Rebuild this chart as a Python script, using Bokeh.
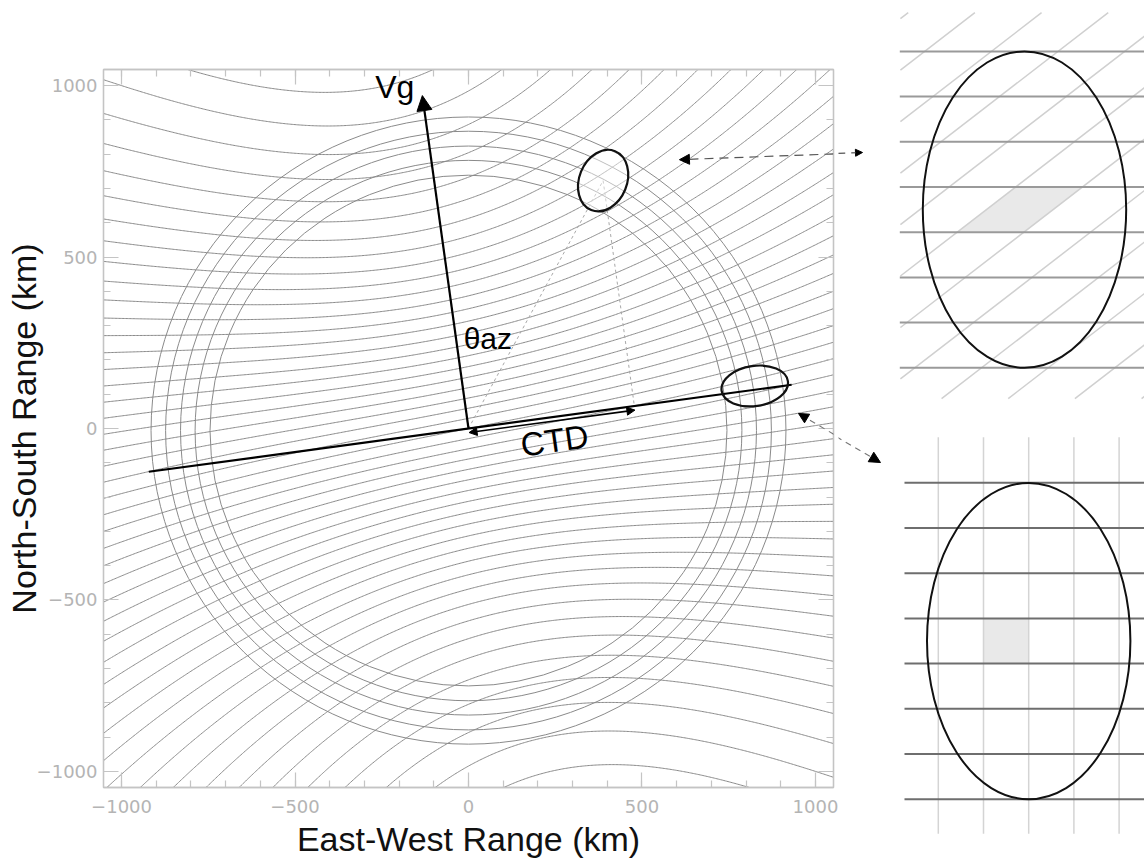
import numpy as np
import contourpy
from bokeh.plotting import figure
from bokeh.models import Range1d, LinearAxis, FixedTicker, Arrow, NormalHead
from bokeh.layouts import row
from bokeh.embed import file_html
from bokeh.resources import INLINE
from bokeh.core.properties import value

# ---------------- data ----------------
X_RANGE_KM = (-1052, 1052)
Y_RANGE_KM = (-1047, 1047)
MAJOR_TICKS = [-1000, -500, 0, 500, 1000]
TICK_LABELS = ["\u22121000", "\u2212500", "0", "500", "1000"]
MINOR_TICKS = list(range(-1000, 1001, 100))

ISO_DELAY_RADII_KM = [745, 788, 830, 873, 915]
ISO_DELAY_CENTER_KM = (0, -6)

RX_HEIGHT_KM = 900
VG_AZIMUTH_DEG = -7.8
TX_DOPPLER_GRADIENT = (-6.0e-5, -5.0e-5)
DOPPLER_STEP = 0.031
DOPPLER_LEVEL_INDEX = list(range(-40, 41))

VG_LENGTH_KM = 980
CTD_LINE_T = (-930, 940)
CTD_ARROW_OFFSET_KM = -12

FOOTPRINT_X = [388, 825]
FOOTPRINT_Y = [723, 124]
FOOTPRINT_W = [183, 193]
FOOTPRINT_H = [139, 117]
FOOTPRINT_ANGLE_DEG = [68, 8.2]

# inset geometry in cell units (1 cell = one resolution cell)
INSET_CELL_PX = 45.2
TOP_H_LINES_Y0, BOT_H_LINES_Y0 = 10.923, 1.378
N_H_LINES = 8
TOP_DIAG_SLOPE, TOP_DIAG_SPACING, TOP_DIAG_ANCHOR = 0.772, 1.475, 2.626
BOT_V_LINES_X0, N_V_LINES = 2.208, 5
ELLIPSE_W_CELLS, ELLIPSE_H_CELLS = 4.5, 7.0

FONT = "Liberation Sans"
FRAME = "#c4c4c4"
GRAY = "#8a8a8a"

# ---------------- main figure ----------------
p = figure(width=838, height=861, x_range=Range1d(*X_RANGE_KM), y_range=Range1d(*Y_RANGE_KM),
           output_backend="svg", toolbar_location=None,
           min_border_left=103, min_border_right=5, min_border_top=69, min_border_bottom=74)
p.frame_align = False
p.xgrid.visible = False
p.ygrid.visible = False
p.outline_line_color = FRAME
p.outline_line_width = 1.3
p.background_fill_color = "white"

ticker = FixedTicker(ticks=MAJOR_TICKS, minor_ticks=MINOR_TICKS)
overrides = {float(t): l for t, l in zip(MAJOR_TICKS, TICK_LABELS)}
blank = {float(t): "" for t in MAJOR_TICKS}


def style_axis(ax, show_labels):
    ax.ticker = ticker
    ax.axis_line_color = FRAME
    ax.axis_line_width = 1.3
    ax.major_tick_line_color = FRAME
    ax.minor_tick_line_color = FRAME
    ax.major_tick_line_width = 1.2
    ax.minor_tick_line_width = 1.2
    ax.major_tick_in = 15
    ax.major_tick_out = 0
    ax.minor_tick_in = 7
    ax.minor_tick_out = 0
    if show_labels:
        ax.major_label_overrides = overrides
        ax.major_label_text_font = "DejaVu Sans"
        ax.major_label_text_font_size = "18px"
        ax.major_label_text_color = "#b4b4b4"
        ax.axis_label_text_font = FONT
        ax.axis_label_text_font_size = "34px"
        ax.axis_label_text_font_style = "normal"
        ax.axis_label_text_color = "#111111"
    else:
        ax.major_label_overrides = blank
        ax.major_label_text_font_size = "10px"
        ax.major_label_standoff = 0


style_axis(p.xaxis[0], True)
style_axis(p.yaxis[0], True)
p.xaxis[0].axis_label = "East-West Range (km)"
p.yaxis[0].axis_label = "North-South Range (km)"
p.xaxis[0].major_label_standoff = 12
p.xaxis[0].axis_label_standoff = 4
p.yaxis[0].major_label_standoff = 6
p.yaxis[0].axis_label_standoff = -9
p.yaxis[0].major_label_orientation = "horizontal"
top_ax = LinearAxis()
right_ax = LinearAxis()
style_axis(top_ax, False)
style_axis(right_ax, False)
p.add_layout(top_ax, "above")
p.add_layout(right_ax, "right")

# iso-Doppler field
az = np.deg2rad(VG_AZIMUTH_DEG)
ux, uy = np.sin(az), np.cos(az)
vx, vy = uy, -ux
g = np.arange(-1120, 1121, 4.0)
GX, GY = np.meshgrid(g, g)
S = ux * GX + uy * GY
T = vx * GX + vy * GY
F = S / np.sqrt(S ** 2 + T ** 2 + RX_HEIGHT_KM ** 2) + TX_DOPPLER_GRADIENT[0] * GX + TX_DOPPLER_GRADIENT[1] * GY
cg = contourpy.contour_generator(g, g, F)
xs, ys = [], []
for k in DOPPLER_LEVEL_INDEX:
    for seg in cg.lines(k * DOPPLER_STEP):
        if len(seg) > 1:
            xs.append(seg[:, 0])
            ys.append(seg[:, 1])
p.multi_line(xs, ys, line_color=GRAY, line_width=1.0)

# iso-delay circles
n = len(ISO_DELAY_RADII_KM)
p.ellipse(x=[ISO_DELAY_CENTER_KM[0]] * n, y=[ISO_DELAY_CENTER_KM[1]] * n,
          width=[2 * r for r in ISO_DELAY_RADII_KM], height=[2 * r for r in ISO_DELAY_RADII_KM],
          fill_color=None, line_color=GRAY, line_width=1.0)

# dotted geometry lines (origin -> footprint, footprint -> CTD foot)
cx, cy = FOOTPRINT_X[0], FOOTPRINT_Y[0]
t_foot = vx * cx + vy * cy
fx, fy = t_foot * vx, t_foot * vy
p.multi_line([[0, cx], [cx, fx]], [[0, cy], [cy, fy]], line_color="#a8a8a8", line_width=1.0, line_dash="3 3")

# cross-track line
p.line([CTD_LINE_T[0] * vx, CTD_LINE_T[1] * vx], [CTD_LINE_T[0] * vy, CTD_LINE_T[1] * vy],
       line_color="black", line_width=2.2)

# footprints
p.ellipse(x=FOOTPRINT_X, y=FOOTPRINT_Y, width=FOOTPRINT_W, height=FOOTPRINT_H,
          angle=list(np.deg2rad(FOOTPRINT_ANGLE_DEG)), fill_color=["white", None], fill_alpha=0.45,
          line_color="#111111", line_width=2.2)

# Vg arrow
p.add_layout(Arrow(x_start=0, y_start=0, x_end=VG_LENGTH_KM * ux, y_end=VG_LENGTH_KM * uy,
                   line_width=2.2, line_color="black",
                   end=NormalHead(size=15, fill_color="black", line_color="black")))
# CTD double arrow
ox, oy = CTD_ARROW_OFFSET_KM * ux, CTD_ARROW_OFFSET_KM * uy
p.add_layout(Arrow(x_start=ox, y_start=oy, x_end=ox + t_foot * vx, y_end=oy + t_foot * vy,
                   line_width=1.6, line_color="black",
                   start=NormalHead(size=8, fill_color="black", line_color="black"),
                   end=NormalHead(size=8, fill_color="black", line_color="black")))

# dashed pointers to insets (main-figure part)
p.add_layout(Arrow(x_start=1138, y_start=804, x_end=608, y_end=784, line_width=1.2,
                   line_color="#555555", line_dash="9 6",
                   end=NormalHead(size=10, fill_color="black", line_color="black")))
p.add_layout(Arrow(x_start=1190, y_start=-99, x_end=951, y_end=44, line_width=1.1,
                   line_color="#777777", line_dash="6 5",
                   end=NormalHead(size=10, fill_color="black", line_color="black")))

# labels
p.text(x=[-156], y=[997], text=["Vg"], text_font=value(FONT), text_font_size="32px",
       text_align="right", text_baseline="middle", text_color="black")
p.text(x=[-14], y=[263], text=["\u03b8az"], text_font=value(FONT), text_font_size="30px",
       text_align="left", text_baseline="middle", text_color="black")
p.text(x=[248], y=[-35], text=["CTD"], text_font=value(FONT), text_font_size="33px",
       text_align="center", text_baseline="middle", angle=np.deg2rad(8.2), text_color="black")

# ---------------- inset figure ----------------
W2, H2 = 306, 861
q = figure(width=W2, height=H2, x_range=Range1d(0, W2 / INSET_CELL_PX), y_range=Range1d(0, H2 / INSET_CELL_PX),
           output_backend="svg", toolbar_location=None, x_axis_type=None, y_axis_type=None,
           min_border=0)
q.frame_align = False
q.outline_line_color = None
q.xgrid.visible = False
q.ygrid.visible = False
XMAX = W2 / INSET_CELL_PX + 0.1

# top inset: oblique cells
y_mid = TOP_H_LINES_Y0 + 3
q.patch([TOP_DIAG_ANCHOR, TOP_DIAG_ANCHOR + TOP_DIAG_SPACING,
         TOP_DIAG_ANCHOR + TOP_DIAG_SPACING + 1 / TOP_DIAG_SLOPE, TOP_DIAG_ANCHOR + 1 / TOP_DIAG_SLOPE],
        [y_mid, y_mid, y_mid + 1, y_mid + 1], fill_color="#e9e9e9", line_color=None)
clip_x0, clip_y0, clip_y1 = 1.37, 10.24, 18.78
dxs, dys = [], []
for k in range(-8, 8):
    a = TOP_DIAG_ANCHOR + k * TOP_DIAG_SPACING
    ylo = max(clip_y0, y_mid + TOP_DIAG_SLOPE * (clip_x0 - a))
    yhi = min(clip_y1, y_mid + TOP_DIAG_SLOPE * (XMAX - a))
    if yhi > ylo:
        dxs.append([a + (ylo - y_mid) / TOP_DIAG_SLOPE, a + (yhi - y_mid) / TOP_DIAG_SLOPE])
        dys.append([ylo, yhi])
q.multi_line(dxs, dys, line_color="#d0d0d0", line_width=1.5)
hy = [TOP_H_LINES_Y0 + i for i in range(N_H_LINES)]
q.multi_line([[1.356, XMAX]] * N_H_LINES, [[y, y] for y in hy], line_color="#9a9a9a", line_width=2)
q.ellipse(x=[4.115], y=[TOP_H_LINES_Y0 + 3.5], width=[ELLIPSE_W_CELLS], height=[ELLIPSE_H_CELLS],
          fill_color=None, line_color="#111111", line_width=2)

# bottom inset: orthogonal cells
q.quad(left=[BOT_V_LINES_X0 + 1], right=[BOT_V_LINES_X0 + 2], bottom=[BOT_H_LINES_Y0 + 3],
       top=[BOT_H_LINES_Y0 + 4], fill_color="#e9e9e9", line_color=None)
vxl = [BOT_V_LINES_X0 + i for i in range(N_V_LINES)]
q.multi_line([[x, x] for x in vxl], [[0.613, 9.387]] * N_V_LINES, line_color="#d4d4d4", line_width=1.5)
by = [BOT_H_LINES_Y0 + i for i in range(N_H_LINES)]
q.multi_line([[1.46, XMAX]] * N_H_LINES, [[y, y] for y in by], line_color="#6e6e6e", line_width=2)
q.ellipse(x=[BOT_V_LINES_X0 + 2], y=[BOT_H_LINES_Y0 + 3.5], width=[ELLIPSE_W_CELLS], height=[ELLIPSE_H_CELLS],
          fill_color=None, line_color="#111111", line_width=2)

# dashed pointers (inset part)
q.add_layout(Arrow(x_start=-0.05, y_start=15.664, x_end=0.531, y_end=15.686, line_width=1.2,
                   line_color="#555555", line_dash="9 6",
                   end=NormalHead(size=7, fill_color="black", line_color="black")))
q.add_layout(Arrow(x_start=-0.05, y_start=9.40, x_end=0.929, y_end=8.827, line_width=1.1,
                   line_color="#777777", line_dash="6 5",
                   end=NormalHead(size=11, fill_color="black", line_color="black")))

layout = row(p, q, spacing=0)
open("out.html", "w").write(file_html(layout, INLINE))
